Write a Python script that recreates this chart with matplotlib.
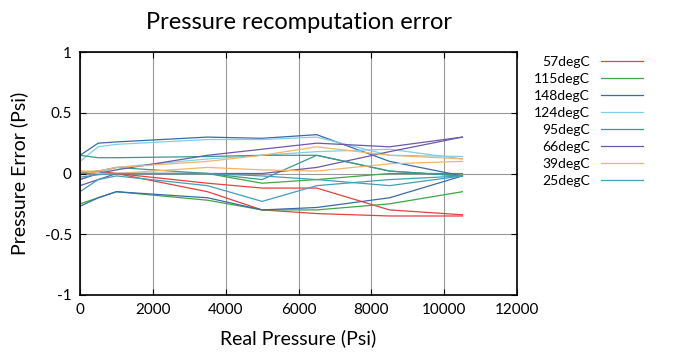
import matplotlib
matplotlib.use('Agg')
import matplotlib.pyplot as plt

plt.rcParams['font.family'] = ['Lato', 'DejaVu Sans']

# Pressure points (Psi)
pressure = [0, 500, 1000, 3500, 5000, 6500, 8500, 10500]

labels = ['57degC', '115degC', '148degC', '124degC', '95degC', '66degC', '39degC', '25degC']
colors = ['#e8413b', '#3fa64a', '#3a6aa8', '#7fd0e6', '#3a9a8a', '#6a5aa8', '#f2b46a', '#40a0b8']

# first pass per temperature (labelled)
err_a = [
    [0.00, 0.02, 0.00, -0.08, -0.12, -0.12, -0.30, -0.34],
    [-0.25, -0.20, -0.15, -0.22, -0.30, -0.30, -0.25, -0.15],
    [0.15, 0.25, 0.26, 0.30, 0.29, 0.32, 0.10, -0.02],
    [0.10, 0.22, 0.24, 0.28, 0.28, 0.30, 0.15, 0.14],
    [0.15, 0.13, 0.13, 0.14, 0.15, 0.15, 0.02, -0.02],
    [-0.05, 0.00, 0.03, 0.15, 0.20, 0.25, 0.22, 0.30],
    [0.02, 0.00, 0.00, 0.05, 0.03, 0.02, 0.08, 0.10],
    [-0.15, -0.05, -0.02, -0.10, -0.23, -0.10, -0.05, -0.02],
]
# second pass per temperature (same colours, no legend entry)
err_b = [
    [0.02, 0.00, 0.00, -0.15, -0.30, -0.33, -0.35, -0.35],
    [0.00, 0.00, 0.00, 0.00, -0.08, -0.05, 0.00, 0.00],
    [-0.27, -0.20, -0.15, -0.20, -0.30, -0.28, -0.20, -0.02],
    [-0.05, 0.00, 0.05, 0.12, 0.15, 0.18, 0.20, 0.12],
    [0.00, 0.02, 0.05, 0.00, -0.05, 0.15, 0.02, -0.02],
    [-0.10, -0.05, 0.00, 0.00, 0.00, 0.05, 0.18, 0.30],
    [0.02, 0.02, 0.05, 0.10, 0.15, 0.22, 0.15, 0.12],
    [-0.03, -0.01, 0.00, 0.00, -0.02, -0.05, -0.10, -0.02],
]

fig = plt.figure(figsize=(6.75, 3.57), dpi=100)
ax = fig.add_axes([0.1185, 0.174, 0.6475, 0.68])

for lab, col, a, b in zip(labels, colors, err_a, err_b):
    ax.plot(pressure, a, color=col, lw=0.9, label=lab)
    ax.plot(pressure, b, color=col, lw=0.9)

ax.set_xlim(0, 12000)
ax.set_ylim(-1, 1)
ax.set_xticks(range(0, 12001, 2000))
ax.set_yticks([-1, -0.5, 0, 0.5, 1])
ax.set_yticklabels(['-1', '-0.5', '0', '0.5', '1'])
ax.grid(True, color='#999999', lw=0.8)
ax.tick_params(direction='in', top=True, right=True, labelsize=11, length=4, pad=6)
for s in ax.spines.values():
    s.set_linewidth(1.2)

ax.set_xlabel('Real Pressure (Psi)', fontsize=14, labelpad=9)
ax.set_ylabel('Pressure Error (Psi)', fontsize=14, labelpad=12)
ax.set_title('Pressure recomputation error', fontsize=17, pad=17)

ax.legend(loc='upper left', bbox_to_anchor=(1.01, 1.035), frameon=False,
          markerfirst=False, fontsize=10, handlelength=3.0, labelspacing=0.36)

plt.savefig('out.png', dpi=100)
plt.close()
